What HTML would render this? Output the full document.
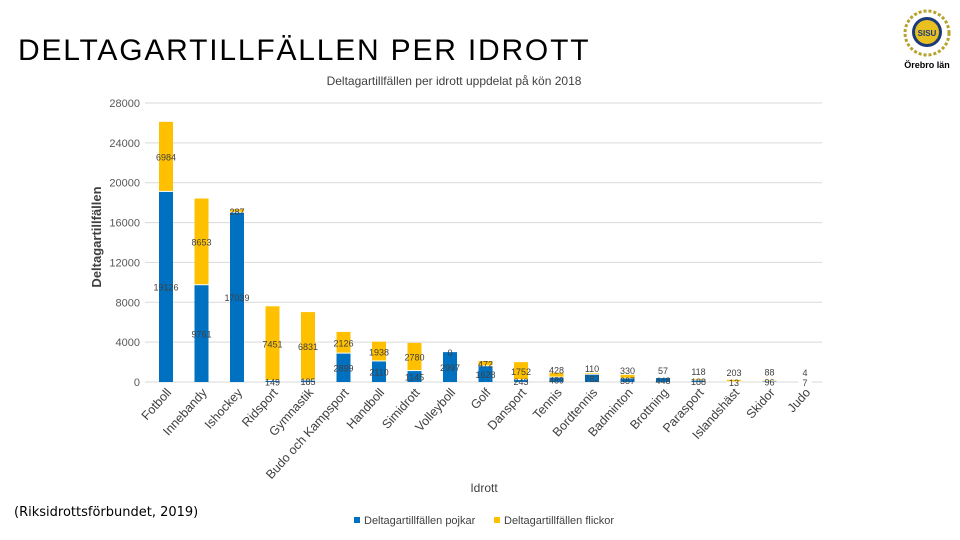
<!DOCTYPE html>
<html><head><meta charset="utf-8">
<style>
body{margin:0;width:960px;height:540px;background:#fff;overflow:hidden;font-family:"Liberation Sans",sans-serif;}
svg{position:absolute;left:0;top:0}
</style></head>
<body>
<svg width="960" height="540">
<text x="18" y="60" font-size="30" letter-spacing="1.8" fill="#000">DELTAGARTILLFÄLLEN PER IDROTT</text>
<g>
<circle cx="927" cy="33" r="22" fill="none" stroke="#b8a22a" stroke-width="3" stroke-dasharray="3 2"/>
<circle cx="927" cy="32" r="15" fill="#1b3a7a"/>
<circle cx="927" cy="32" r="12" fill="#e8c020"/>
<text x="927" y="36" font-size="8" font-weight="bold" text-anchor="middle" fill="#1b3a7a">SISU</text>
<text x="927" y="68" font-size="9" font-weight="bold" text-anchor="middle" fill="#000">Örebro län</text>
</g>
<text x="454" y="85" font-size="12" text-anchor="middle" fill="#404040">Deltagartillfällen per idrott uppdelat på kön 2018</text>
<g id="grid"></g>
<g id="bars"></g>
<g id="labels"></g>
<text transform="translate(101,237) rotate(-90)" font-size="13" font-weight="bold" text-anchor="middle" fill="#404040">Deltagartillfällen</text>
<text x="484" y="492" font-size="12" text-anchor="middle" fill="#404040">Idrott</text>
<g>
<rect x="354" y="517" width="6" height="6" fill="#0070c0"/>
<text x="364" y="524" font-size="11" fill="#404040">Deltagartillfällen pojkar</text>
<rect x="494" y="517" width="6" height="6" fill="#ffc000"/>
<text x="504" y="524" font-size="11" fill="#404040">Deltagartillfällen flickor</text>
</g>
<text x="14" y="516" font-size="13" fill="#000" font-family="DejaVu Sans, sans-serif">(Riksidrottsförbundet, 2019)</text>
</svg>
<script>
const categories=["Fotboll","Innebandy","Ishockey","Ridsport","Gymnastik","Budo och Kampsport","Handboll","Simidrott","Volleyboll","Golf","Dansport","Tennis","Bordtennis","Badminton","Brottning","Parasport","Islandshäst","Skidor","Judo"];
const boys=[19126,9761,17039,149,185,2899,2110,1145,2997,1628,243,489,782,387,448,188,13,96,7];
const girls=[6984,8653,287,7451,6831,2126,1938,2780,0,472,1752,428,110,330,57,118,203,88,4];
const ticks=[0,4000,8000,12000,16000,20000,24000,28000];
const NS="http://www.w3.org/2000/svg";
const y0=382,yTop=103,yMax=28000,xL=145,xR=822;
const ys=v=>y0-(v/yMax)*(y0-yTop);
const step=35.5;
const xs=i=>166+step*i;
const bw=14;
function mk(t,a,p){const e=document.createElementNS(NS,t);for(const k in a)e.setAttribute(k,a[k]);p.appendChild(e);return e;}
const grid=document.getElementById('grid'),bars=document.getElementById('bars'),lab=document.getElementById('labels');
ticks.forEach(t=>{
  const l=mk('line',{x1:xL,x2:xR,y1:ys(t),y2:ys(t),stroke:'#d9d9d9','stroke-width':1},grid);
  
  
  const tx=mk('text',{x:140,y:ys(t)+4,'font-size':11,'text-anchor':'end',fill:'#595959'},grid);
  tx.textContent=t;
  
  
});
categories.forEach((c,i)=>{
  const x=xs(i);
  const b=mk('rect',{x:x-bw/2,y:ys(boys[i]),width:bw,height:y0-ys(boys[i]),fill:'#0070c0'},bars);
  
  
  const g=mk('rect',{x:x-bw/2,y:ys(boys[i]+girls[i]),width:bw,height:ys(boys[i])-ys(boys[i]+girls[i]),fill:'#ffc000'},bars);
  
  
  if(girls[i]>0){mk('line',{x1:x-bw/2,x2:x+bw/2,y1:ys(boys[i]),y2:ys(boys[i]),stroke:'#fff','stroke-width':1},bars);}
  let by=(y0+ys(boys[i]))/2+4, gy=(ys(boys[i])+ys(boys[i]+girls[i]))/2+4;
  if(gy>by-10) gy=by-10;
  if(by>y0+4){by=y0+4;gy=Math.min(gy,by-10);}
  const t1=mk('text',{x:x,y:by,'font-size':9,'text-anchor':'middle',fill:'#404040'},lab);
  t1.textContent=boys[i];
  
  
  const t2=mk('text',{x:x,y:gy,'font-size':9,'text-anchor':'middle',fill:'#404040'},lab);
  t2.textContent=girls[i];
  
  
  const cl=mk('text',{transform:`translate(${x+6},393) rotate(-48)`,'font-size':12.5,'text-anchor':'end',fill:'#404040'},lab);
  cl.textContent=c;
  
  
});
</script>
</body></html>
